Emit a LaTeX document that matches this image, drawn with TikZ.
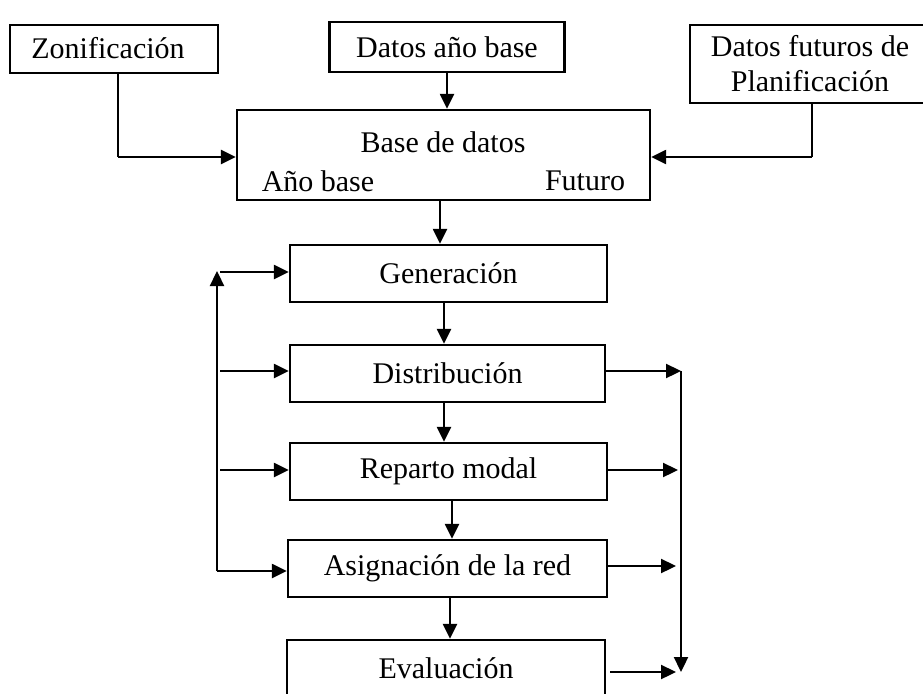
\documentclass[tikz,border=0pt]{standalone}
\usepackage{fontspec}
\setmainfont{Liberation Serif}
\usetikzlibrary{arrows.meta}
\begin{document}
\begin{tikzpicture}[x=1pt,y=-1pt,
  box/.style={draw,line width=2.3pt,rectangle,inner sep=0pt,font=\fontsize{30}{35}\selectfont,align=center},
  txt/.style={inner sep=0pt,font=\fontsize{30}{35}\selectfont},
  con/.style={line width=2.3pt,-{Triangle[length=15pt,width=14pt]}},
  ln/.style={line width=2.3pt}]
\useasboundingbox (0,0) rectangle (923,693);
\clip (0,0) rectangle (923,693);
\node[box,minimum width=208pt,minimum height=48pt] (zon) at (114,49) {};
\node[txt] (zont) at (108,48) {Zonificación};
\node[box,minimum width=235pt,minimum height=50pt] (dab) at (447,47) {Datos año base};
\node[box,minimum width=240pt,minimum height=78pt] (dfp) at (810,64) {Datos futuros de\\Planificación};
\node[box,minimum width=413pt,minimum height=90pt] (bd) at (443.5,155) {};
\node[txt] (bdt) at (443,142) {Base de datos};
\node[txt] (bdа) at (318,181) {Año base};
\node[txt] (bdf) at (585,181) {Futuro};
\node[box,minimum width=317pt,minimum height=57pt] (gen) at (448.5,273.5) {Generación};
\node[box,minimum width=315pt,minimum height=57pt] (dis) at (447.5,373.5) {Distribución};
\node[box,minimum width=317pt,minimum height=57pt] (rep) at (448.5,471.5) {Reparto modal};
\node[box,minimum width=319pt,minimum height=57pt] (asi) at (447.5,568.5) {Asignación de la red};
\node[box,minimum width=318pt,minimum height=80pt] (eva) at (446,680) {};
\node[txt] (evt) at (446,668) {Evaluación};
% top connectors
\coordinate (zc) at (118,157);
\coordinate (fc) at (812,157);
\draw[ln] (zon.south -| zc) -- (zc);
\draw[con] (zc) -- (bd.west |- zc);
\draw[ln] (dfp.south -| fc) -- (fc);
\draw[con] (fc) -- (bd.east |- fc);
\draw[con] (dab.south) -- (bd.north -| dab.south);
% vertical chain
\draw[con] (440,200) -- (gen.north -| 440,0);
\draw[con] (444,302) -- (dis.north -| 444,0);
\draw[con] (444,402) -- (rep.north -| 444,0);
\draw[con] (452,500) -- (asi.north -| 452,0);
\draw[con] (450,597) -- (eva.north -| 450,0);
% left feedback
\coordinate (lb) at (217,571);
\coordinate (lt) at (217,271);
\coordinate (lg) at (220,272);
\coordinate (ld) at (220,371);
\coordinate (lr) at (220,470);
\draw[con] (lb) -- (lt);
\draw[con] (lb) -- (asi.west |- lb);
\draw[con] (lg) -- (gen.west |- lg);
\draw[con] (ld) -- (dis.west |- ld);
\draw[con] (lr) -- (rep.west |- lr);
% right
\coordinate (rt) at (681,371);
\coordinate (rb) at (681,672);
\draw[con] (dis.east |- rt) -- (rt);
\draw[con] (rt) -- (rb);
\draw[con] (rep.east |- 0,470) -- (678,470);
\draw[con] (asi.east |- 0,566) -- (676,566);
\draw[con] (610,672) -- (676,672);
\end{tikzpicture}
\end{document}
